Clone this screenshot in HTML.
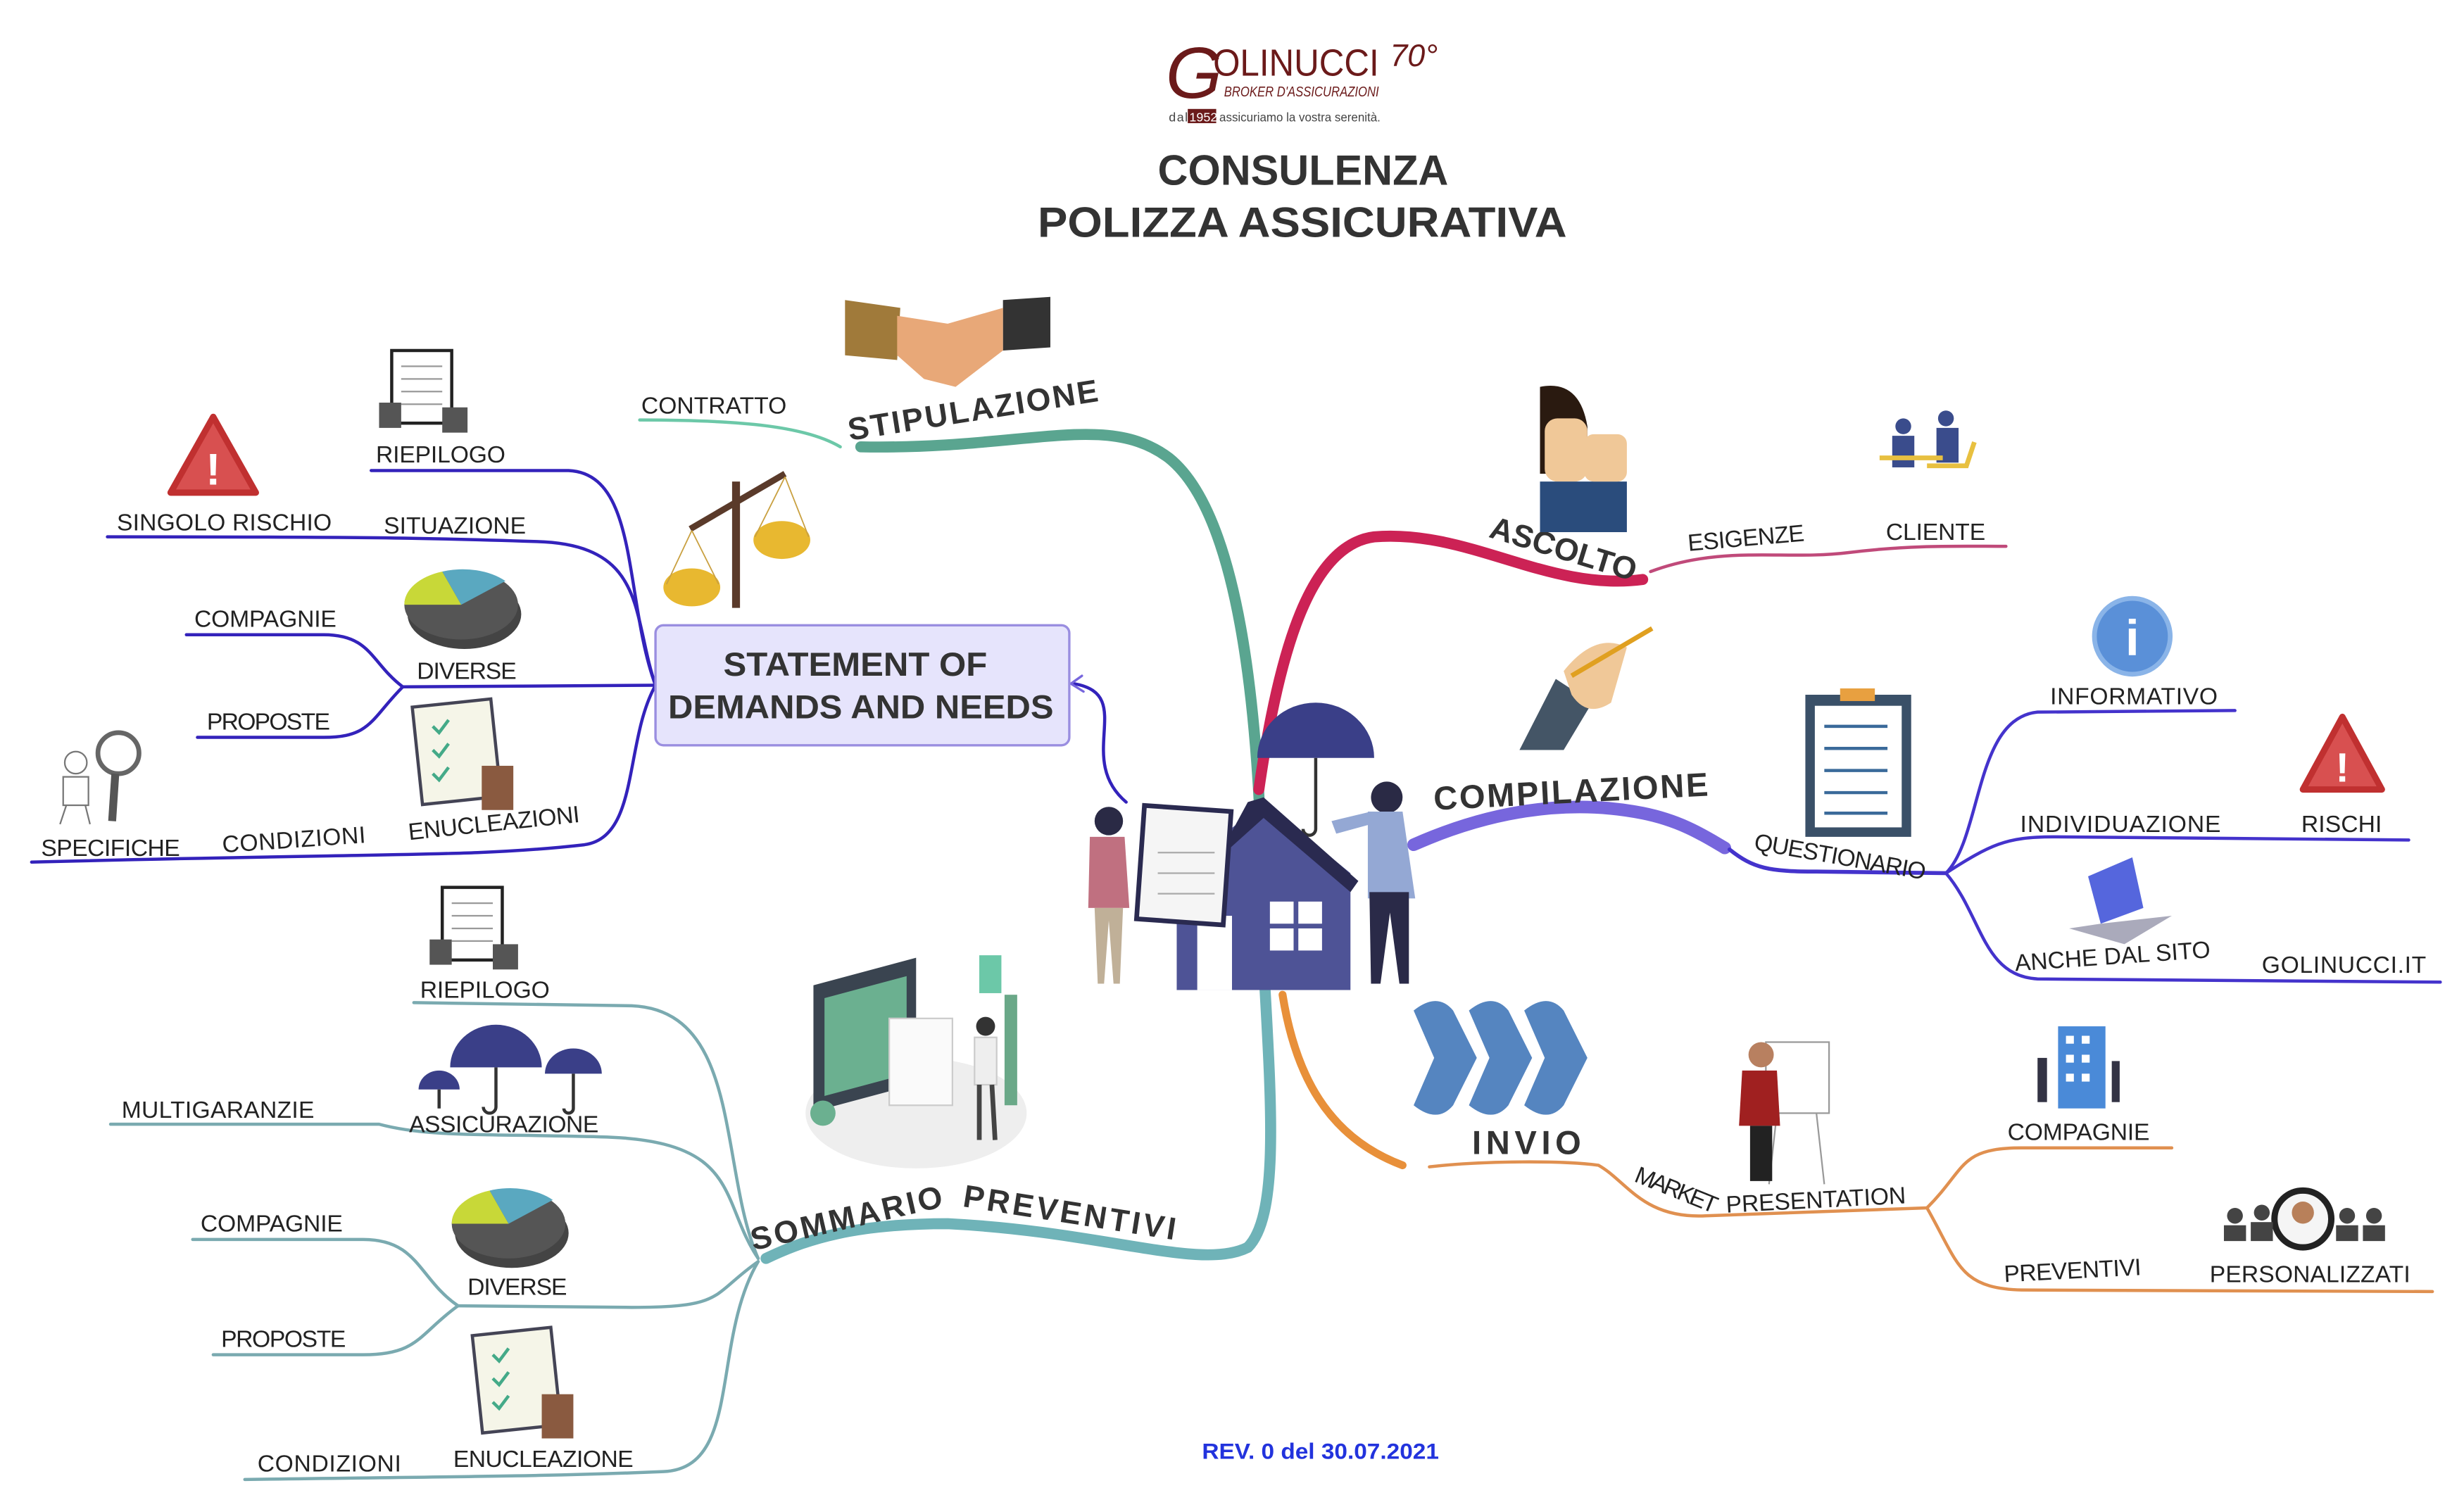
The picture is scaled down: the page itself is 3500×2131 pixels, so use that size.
<!DOCTYPE html>
<html><head><meta charset="utf-8"><style>
html,body{margin:0;padding:0;background:#fff}
svg{display:block}
text{font-family:"Liberation Sans Narrow","Liberation Sans",sans-serif}
.l{font-size:15px;fill:#222}
.b{font-family:"Liberation Sans",sans-serif;font-weight:bold;fill:#333}
</style></head><body>
<svg width="3500" height="2131" viewBox="0 0 1560 950" preserveAspectRatio="none" xmlns="http://www.w3.org/2000/svg">
<rect width="1560" height="950" fill="#fff"/>
<!-- logo -->
<text x="738" y="62" font-family="Liberation Serif" font-style="italic" font-size="46" fill="#6b1a1a">G</text>
<text x="768" y="48" font-family="Liberation Serif" font-size="24" fill="#6b1a1a" textLength="105" lengthAdjust="spacingAndGlyphs">OLINUCCI</text>
<text x="880" y="42" font-family="Liberation Serif" font-style="italic" font-size="20" fill="#6b1a1a">70°</text>
<text x="775" y="61" font-family="Liberation Serif" font-style="italic" font-size="9" fill="#6b1a1a" textLength="98" lengthAdjust="spacingAndGlyphs">BROKER D'ASSICURAZIONI</text>
<text x="740" y="77" font-family="Liberation Serif" font-size="8" fill="#444" textLength="12">dal</text>
<rect x="752" y="69" width="18" height="9" fill="#6b1a1a"/><text x="753" y="77" font-family="Liberation Serif" font-size="8" fill="#fff">1952</text>
<text x="772" y="77" font-family="Liberation Serif" font-size="8" fill="#444" textLength="102" lengthAdjust="spacingAndGlyphs">assicuriamo la vostra serenità.</text>
<!-- title -->
<text x="733" y="117" class="b" font-size="27" textLength="184" lengthAdjust="spacingAndGlyphs">CONSULENZA</text>
<text x="657" y="150" class="b" font-size="27" textLength="335" lengthAdjust="spacingAndGlyphs">POLIZZA ASSICURATIVA</text>
<text x="761" y="924" font-family="Liberation Sans" font-weight="bold" font-size="14" fill="#2233dd" textLength="150" lengthAdjust="spacingAndGlyphs">REV. 0 del 30.07.2021</text>

<!-- main branches -->
<g fill="none" stroke-linecap="round">
<path d="M800,620 C800,480 790,330 740,290 C700,260 650,285 545,283" stroke="#5aa590" stroke-width="7"/>
<path d="M800,610 C805,700 810,770 790,790 C760,805 700,780 600,775 C540,775 510,785 485,797" stroke="#6fb3b8" stroke-width="7"/>
<path d="M797,500 C810,410 830,345 870,340 C930,335 980,375 1040,367" stroke="#cc2255" stroke-width="7"/>
<path d="M895,535 C940,515 990,505 1040,515 C1065,520 1080,530 1092,537" stroke="#7766dd" stroke-width="8"/>
<path d="M812,630 C820,680 840,720 888,738" stroke="#e8903a" stroke-width="5"/>
<!-- thin -->
<path d="M405,266 C470,266 510,270 532,283" stroke="#6cc8a8" stroke-width="2"/>
<path d="M1045,362 C1090,345 1130,355 1170,350 C1210,345 1240,346 1270,346" stroke="#c04a7a" stroke-width="2"/>
<path d="M1095,538 C1110,550 1120,552 1150,552 L1232,553" stroke="#4433cc" stroke-width="2.5"/>
<path d="M1232,553 C1255,530 1250,455 1290,451 L1415,450" stroke="#4433cc" stroke-width="2"/>
<path d="M1232,553 C1260,535 1270,530 1300,530 L1525,532" stroke="#4433cc" stroke-width="2"/>
<path d="M1232,553 C1255,580 1255,618 1290,620 L1545,622" stroke="#4433cc" stroke-width="2"/>
<path d="M905,739 C940,735 990,735 1012,738 C1030,748 1040,772 1080,770 L1220,765" stroke="#e09050" stroke-width="2"/>
<path d="M1220,765 C1245,740 1240,727 1280,727 L1375,727" stroke="#e09050" stroke-width="2"/>
<path d="M1220,765 C1240,800 1240,816 1280,817 L1540,818" stroke="#e09050" stroke-width="2"/>
<!-- left purple -->
<g stroke="#3322bb" stroke-width="2">
<path d="M415,434 C395,380 405,300 360,298 L235,298"/>
<path d="M415,434 C400,390 410,345 340,343 C280,341 250,340 68,340"/>
<path d="M415,434 L255,435"/>
<path d="M255,435 C235,420 235,402 205,402 L118,402"/>
<path d="M255,435 C235,455 235,467 205,467 L125,467"/>
<path d="M415,434 C395,470 405,530 370,535 C300,543 250,540 20,546"/>
<path d="M713,508 C680,480 720,440 680,433"/>
</g>
<path d="M685,428 L678,433 L686,438" stroke="#7766dd" stroke-width="1.5"/>
<!-- lower-left teal -->
<g stroke="#7aaab0" stroke-width="2">
<path d="M480,797 C455,740 470,640 400,637 L262,635"/>
<path d="M480,797 C455,760 470,722 380,720 C300,718 270,720 240,712 L70,712"/>
<path d="M480,799 C450,820 460,828 400,828 L290,827"/>
<path d="M290,827 C265,810 265,785 230,785 L122,785"/>
<path d="M290,827 C265,845 265,858 230,858 L135,858"/>
<path d="M480,799 C450,850 470,930 420,932 C350,935 300,935 155,937"/>
</g>
</g>

<!-- labels -->
<g class="l" lengthAdjust="spacingAndGlyphs">
<text x="406" y="262" textLength="92">CONTRATTO</text>
<text x="238" y="293" textLength="82">RIEPILOGO</text>
<text x="74" y="336" textLength="136">SINGOLO RISCHIO</text>
<text x="243" y="338" textLength="90">SITUAZIONE</text>
<text x="123" y="397" textLength="90">COMPAGNIE</text>
<text x="264" y="430" textLength="63">DIVERSE</text>
<text x="131" y="462" textLength="78">PROPOSTE</text>
<text x="26" y="542" textLength="88">SPECIFICHE</text>
<text x="141" y="540" transform="rotate(-4 141 540)" textLength="91">CONDIZIONI</text>
<text x="259" y="532" transform="rotate(-6 259 532)" textLength="109">ENUCLEAZIONI</text>
<text x="266" y="632" textLength="82">RIEPILOGO</text>
<text x="77" y="708" textLength="122">MULTIGARANZIE</text>
<text x="259" y="717" textLength="120">ASSICURAZIONE</text>
<text x="127" y="780" textLength="90">COMPAGNIE</text>
<text x="296" y="820" textLength="63">DIVERSE</text>
<text x="140" y="853" textLength="79">PROPOSTE</text>
<text x="163" y="932" textLength="91">CONDIZIONI</text>
<text x="287" y="929" textLength="114">ENUCLEAZIONE</text>
<text x="1069" y="349" transform="rotate(-5 1069 349)" textLength="74">ESIGENZE</text>
<text x="1194" y="342" textLength="63">CLIENTE</text>
<text x="1110" y="538" transform="rotate(10 1110 538)" textLength="110">QUESTIONARIO</text>
<text x="1298" y="446" textLength="106">INFORMATIVO</text>
<text x="1279" y="527" textLength="127">INDIVIDUAZIONE</text>
<text x="1457" y="527" textLength="51">RISCHI</text>
<text x="1276" y="615" transform="rotate(-4 1276 615)" textLength="124">ANCHE DAL SITO</text>
<text x="1432" y="616" textLength="104">GOLINUCCI.IT</text>
<text x="1034" y="748" transform="rotate(22 1034 748)" textLength="55">MARKET</text>
<text x="1093" y="768" transform="rotate(-3 1093 768)" textLength="114">PRESENTATION</text>
<text x="1271" y="722" textLength="90">COMPAGNIE</text>
<text x="1269" y="812" transform="rotate(-3 1269 812)" textLength="87">PREVENTIVI</text>
<text x="1399" y="812" textLength="127">PERSONALIZZATI</text>
</g>
<g class="b" font-size="20" lengthAdjust="spacingAndGlyphs">
<text x="538" y="279" transform="rotate(-9 538 279)" textLength="160">STIPULAZIONE</text>
<text x="942" y="340" transform="rotate(17 942 340)" textLength="96">ASCOLTO</text>
<text x="908" y="513" transform="rotate(-3 908 513)" font-size="21" textLength="174">COMPILAZIONE</text>
<text x="932" y="731" font-size="21" textLength="69">INVIO</text>
<text x="477" y="792" transform="rotate(-13 477 792)" textLength="124">SOMMARIO</text>
<text x="609" y="764" transform="rotate(9 609 764)" textLength="136">PREVENTIVI</text>
</g>

<!-- statement box -->
<rect x="415" y="396" width="262" height="76" rx="5" fill="#e6e4fc" stroke="#9a8ee0" stroke-width="1.5"/>
<text x="458" y="428" class="b" font-size="21" textLength="167" lengthAdjust="spacingAndGlyphs">STATEMENT OF</text>
<text x="423" y="455" class="b" font-size="21" textLength="244" lengthAdjust="spacingAndGlyphs">DEMANDS AND NEEDS</text>

<!-- icons -->
<path d="M535,190 L570,195 L568,228 L535,225Z" fill="#a07a3a"/><path d="M635,190 L665,188 L665,220 L635,222Z" fill="#333"/>
<path d="M568,200 L600,205 L635,195 L635,222 L605,245 L585,240 L568,225Z" fill="#e8a878"/>
<line x1="466" y1="305" x2="466" y2="385" stroke="#5a3a2a" stroke-width="5"/>
<line x1="437" y1="335" x2="497" y2="300" stroke="#5a3a2a" stroke-width="4"/>
<ellipse cx="438" cy="372" rx="18" ry="12" fill="#e8b830"/><ellipse cx="495" cy="342" rx="18" ry="12" fill="#e8b830"/>
<path d="M438,336 L422,370 M438,336 L455,370 M497,302 L478,340 M497,302 L512,340" stroke="#c9a040" stroke-width="0.8" fill="none"/>
<g><rect x="248" y="222" width="38" height="46" fill="#fff" stroke="#222" stroke-width="2"/><path d="M254,232h26M254,240h26M254,248h26M254,256h26" stroke="#999"/><rect x="240" y="255" width="14" height="16" fill="#555"/><rect x="280" y="258" width="16" height="16" fill="#555"/></g>
<g transform="translate(32,340)"><rect x="248" y="222" width="38" height="46" fill="#fff" stroke="#222" stroke-width="2"/><path d="M254,232h26M254,240h26M254,248h26M254,256h26" stroke="#999"/><rect x="240" y="255" width="14" height="16" fill="#555"/><rect x="280" y="258" width="16" height="16" fill="#555"/></g>
<g><rect x="264" y="445" width="50" height="62" fill="#f5f5e8" stroke="#445" stroke-width="2" transform="rotate(-6 290 475)"/><path d="M274,460l4,4 6,-8M274,475l4,4 6,-8M274,490l4,4 6,-8" stroke="#4a8" fill="none" stroke-width="2"/><rect x="305" y="485" width="20" height="28" fill="#8a5a40"/></g>
<g transform="translate(38,398)"><rect x="264" y="445" width="50" height="62" fill="#f5f5e8" stroke="#445" stroke-width="2" transform="rotate(-6 290 475)"/><path d="M274,460l4,4 6,-8M274,475l4,4 6,-8M274,490l4,4 6,-8" stroke="#4a8" fill="none" stroke-width="2"/><rect x="305" y="485" width="20" height="28" fill="#8a5a40"/></g>
<path d="M135,264 L162,312 L108,312Z" fill="#d85050" stroke="#c03030" stroke-width="4" stroke-linejoin="round"/><text x="135" y="307" font-family="Liberation Sans" font-weight="bold" font-size="28" fill="#fff" text-anchor="middle">!</text>
<path d="M1483,454 L1508,500 L1458,500Z" fill="#d85050" stroke="#c03030" stroke-width="4" stroke-linejoin="round"/><text x="1483" y="495" font-family="Liberation Sans" font-weight="bold" font-size="26" fill="#fff" text-anchor="middle">!</text>
<g><ellipse cx="294" cy="389" rx="36" ry="22" fill="#444"/><ellipse cx="292" cy="383" rx="36" ry="22" fill="#555"/><path d="M292,383 L256,383 A36,22 0 0 1 280,362Z" fill="#c8d838"/><path d="M292,383 L280,362 A36,22 0 0 1 320,368Z" fill="#5aa8c0"/></g>
<g transform="translate(30,392)"><ellipse cx="294" cy="389" rx="36" ry="22" fill="#444"/><ellipse cx="292" cy="383" rx="36" ry="22" fill="#555"/><path d="M292,383 L256,383 A36,22 0 0 1 280,362Z" fill="#c8d838"/><path d="M292,383 L280,362 A36,22 0 0 1 320,368Z" fill="#5aa8c0"/></g>
<circle cx="75" cy="477" r="13" fill="none" stroke="#666" stroke-width="3"/><line x1="73" y1="490" x2="71" y2="520" stroke="#555" stroke-width="5"/>
<circle cx="48" cy="483" r="7" fill="#fff" stroke="#777"/><path d="M40,492 h16 v18 h-16z M42,510 l-4,12 M54,510 l3,12" fill="#fff" stroke="#777"/>
<g fill="#3a3f88"><path d="M285,676 A29,27 0 0 1 343,676Z"/><path d="M265,690 A13,12 0 0 1 291,690Z"/><path d="M345,680 A18,16 0 0 1 381,680Z"/><path d="M796,480 A37,35 0 0 1 870,480Z"/></g>
<path d="M314,676v25a4,4 0 0 1-8,0M278,690v12M363,680v22a3,3 0 0 1-6,0M833,480v45a4,4 0 0 1-8,0" stroke="#333" fill="none" stroke-width="2"/>
<ellipse cx="580" cy="705" rx="70" ry="35" fill="#eee"/>
<rect x="515" y="612" width="65" height="80" fill="#3a4450" transform="skewY(-15) translate(0,150)"/>
<rect x="522" y="622" width="52" height="62" fill="#6bb090" transform="skewY(-15) translate(0,150)"/>
<rect x="563" y="645" width="40" height="55" fill="#fafafa" stroke="#ccc"/>
<rect x="620" y="605" width="14" height="24" fill="#6cc8a8"/><rect x="636" y="630" width="8" height="70" fill="#6aa888"/>
<circle cx="624" cy="650" r="6" fill="#333"/><rect x="617" y="657" width="14" height="30" fill="#eee" stroke="#ccc"/><path d="M620,687l0,35M628,687l2,35" stroke="#444" stroke-width="3"/>
<circle cx="521" cy="705" r="8" fill="#6bb090"/>
<!-- center scene -->
<path d="M745,553 L800,508 L855,553 L855,627 L745,627Z" fill="#4e5396"/>
<path d="M790,508 L800,505 L860,558 L855,565 L800,518 L770,545Z" fill="#2a2a50"/>
<rect x="758" y="580" width="22" height="47" fill="#fff"/>
<g fill="#fff"><rect x="804" y="571" width="15" height="14"/><rect x="822" y="571" width="15" height="14"/><rect x="804" y="588" width="15" height="14"/><rect x="822" y="588" width="15" height="14"/></g>
<rect x="722" y="512" width="55" height="72" fill="#f5f5f5" stroke="#2a2a50" stroke-width="3" transform="rotate(4 750 548)"/>
<path d="M733,540h36M733,553h36M733,566h36" stroke="#aaa"/>
<circle cx="702" cy="520" r="9" fill="#2a2a45"/><path d="M690,530 h22 l3,45 h-26z" fill="#c07080"/><path d="M693,575 h18 l-2,48 h-4 l-3,-40 -3,40 h-4z" fill="#c0b098"/>
<circle cx="878" cy="505" r="10" fill="#2a2a45"/><path d="M866,514 h22 l8,55 h-30z" fill="#94a8d4"/><path d="M867,565 h25 l0,58 h-6 l-6,-45 -6,45 h-6z" fill="#2a2a48"/>
<path d="M843,520 l25,-6 l0,8 l-22,6z" fill="#94a8d4"/>
<g fill="#5585c0"><path d="M895,640 q15,-12 25,0 l15,30 -15,30 q-10,12 -25,0 l13,-30z"/><path d="M930,640 q15,-12 25,0 l15,30 -15,30 q-10,12 -25,0 l13,-30z"/><path d="M965,640 q15,-12 25,0 l15,30 -15,30 q-10,12 -25,0 l13,-30z"/></g>
<path d="M975,245 q25,-5 30,25 l0,30 -30,0z" fill="#2a1a10"/><rect x="978" y="265" width="27" height="40" rx="8" fill="#f0c898"/><path d="M975,305 h55 v32 h-55z" fill="#2a4c7c"/><rect x="1003" y="275" width="27" height="30" rx="6" fill="#f0c898"/>
<g fill="#3a4c8c"><circle cx="1205" cy="270" r="5"/><rect x="1198" y="276" width="14" height="20"/><circle cx="1232" cy="265" r="5"/><rect x="1226" y="271" width="14" height="22"/></g><path d="M1190,290h40M1220,295l25,0 5,-15" stroke="#e8c040" stroke-width="3" fill="none"/>
<path d="M962,475 L985,430 L1008,445 L990,475Z" fill="#445566"/><path d="M990,425 q20,-25 40,-15 l-10,35 q-15,10 -25,-5z" fill="#f0c898"/><line x1="995" y1="428" x2="1046" y2="398" stroke="#e0a020" stroke-width="3"/>
<rect x="1143" y="440" width="67" height="90" fill="#3a5068"/><rect x="1149" y="447" width="55" height="77" fill="#fff"/><rect x="1165" y="436" width="22" height="8" fill="#e8a040"/>
<g stroke="#3a6a9a" stroke-width="2"><path d="M1155,460h40M1155,474h40M1155,488h40M1155,502h40M1155,515h40"/></g>
<circle cx="1350" cy="403" r="24" fill="#5a90d8" stroke="#8ab4e8" stroke-width="3"/><text x="1350" y="415" font-family="Liberation Serif" font-weight="bold" font-size="32" fill="#fff" text-anchor="middle">i</text>
<path d="M1322,555 L1350,543 L1357,575 L1330,585Z" fill="#5566dd"/><path d="M1310,588 L1330,585 L1375,580 L1345,598Z" fill="#aab"/>
<rect x="1118" y="660" width="40" height="45" fill="#fff" stroke="#999"/><path d="M1125,705 l-5,45 M1150,705 l5,45" stroke="#999"/>
<circle cx="1115" cy="668" r="8" fill="#b88060"/><path d="M1103,678h22l2,35h-26z" fill="#a02020"/><path d="M1108,713h14v35h-14z" fill="#222"/>
<rect x="1303" y="650" width="30" height="52" fill="#4a8ad8"/><g fill="#fff"><rect x="1308" y="656" width="5" height="5"/><rect x="1318" y="656" width="5" height="5"/><rect x="1308" y="668" width="5" height="5"/><rect x="1318" y="668" width="5" height="5"/><rect x="1308" y="680" width="5" height="5"/><rect x="1318" y="680" width="5" height="5"/></g>
<rect x="1290" y="670" width="6" height="28" fill="#334"/><rect x="1337" y="672" width="5" height="26" fill="#334"/>
<circle cx="1458" cy="772" r="18" fill="#f5f5f5" stroke="#222" stroke-width="4"/><circle cx="1458" cy="768" r="7" fill="#b8805a"/>
<g fill="#444"><circle cx="1415" cy="770" r="5"/><rect x="1408" y="776" width="14" height="10"/><circle cx="1432" cy="768" r="5"/><rect x="1425" y="774" width="14" height="12"/><circle cx="1486" cy="770" r="5"/><rect x="1479" y="776" width="14" height="10"/><circle cx="1503" cy="770" r="5"/><rect x="1496" y="776" width="14" height="10"/></g>
</svg>
</body></html>
